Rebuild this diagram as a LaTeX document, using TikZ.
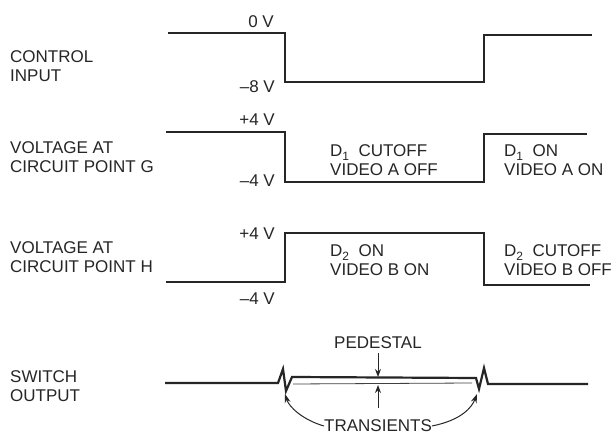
\documentclass[tikz,border=0pt]{standalone}
\usepackage{fontspec}
\setmainfont{Liberation Sans}
\usetikzlibrary{arrows.meta}
\newcommand{\sbone}[1]{\raisebox{-0.45ex}{\fontsize{12}{12}\selectfont #1}}
\begin{document}
\begin{tikzpicture}[x=1pt,y=-1pt,
  lbl/.style={font=\fontsize{17}{19}\selectfont, inner sep=0pt, align=left, text=black!85},
  wave/.style={line width=2.4pt, line join=miter, black!85},
  thinref/.style={line width=0.8pt, black!75},
  pedarrow/.style={line width=1pt, black!85, -{Stealth[length=8pt,width=6pt]}},
  trarrow/.style={line width=1pt, black!85, -{Stealth[length=9pt,width=6pt]}}]
\useasboundingbox[fill=white] (0,0) rectangle (616,435);

% left labels
\node[lbl, anchor=west] (ci) at (10,66) {CONTROL\\INPUT};
\node[lbl, anchor=west] (vg) at (10,157) {VOLTAGE AT\\CIRCUIT POINT G};
\node[lbl, anchor=west] (vh) at (10,257) {VOLTAGE AT\\CIRCUIT POINT H};
\node[lbl, anchor=west] (so) at (10,386) {SWITCH\\OUTPUT};

% control input
\draw[wave] (168,33) -- (285,33) -- (285,82) -- (484,82) -- (484,35) -- (592,35);
\node[lbl, anchor=east] (c0) at (274,22) {0 V};
\node[lbl, anchor=east] (c8) at (275,87) {–8 V};

% point G
\draw[wave] (166,132) -- (285,132) -- (285,182) -- (484,182) -- (484,134) -- (587,134);
\node[lbl, anchor=east] (g4p) at (275,120) {+4 V};
\node[lbl, anchor=east] (g4m) at (275,181) {–4 V};
\node[lbl, anchor=west] (gs1) at (330,160) {D\sbone{1}\ \ CUTOFF\\VIDEO A OFF};
\node[lbl, anchor=west] (gs2) at (504,160) {D\sbone{1}\ \ ON\\VIDEO A ON};

% point H
\draw[wave] (166,282) -- (285,282) -- (285,233) -- (484,233) -- (484,285) -- (590,285);
\node[lbl, anchor=east] (h4p) at (275,234) {+4 V};
\node[lbl, anchor=east] (h4m) at (275,299) {–4 V};
\node[lbl, anchor=west] (hs1) at (330,260) {D\sbone{2}\ \ ON\\VIDEO B ON};
\node[lbl, anchor=west] (hs2) at (504,260) {D\sbone{2}\ \ CUTOFF\\VIDEO B OFF};

% switch output
\draw[wave, line width=2.2pt] (165,383) -- (278,383) -- (283,369) -- (286,391) -- (292,377) -- (476,378)
   -- (479,389) -- (484,368) -- (488,384) -- (588,384);
\draw[thinref] (293,384) -- (472,383);

\node[lbl] (ped) at (378,343) {PEDESTAL};
\coordinate (pt) at (378,377);
\coordinate (pb) at (378,385);
\coordinate (pa) at (378,353);
\coordinate (pc) at (378,408);
\draw[pedarrow] (pa) -- (pt);
\draw[pedarrow] (pc) -- (pb);

\node[lbl] (tr) at (378,426) {TRANSIENTS};
\coordinate (t1) at (285,394);
\coordinate (t2) at (477,394);
\draw[trarrow] (tr.west) .. controls (303,420) and (289,407) .. (t1);
\draw[trarrow] (tr.east) .. controls (462,420) and (472,407) .. (t2);
\end{tikzpicture}
\end{document}
